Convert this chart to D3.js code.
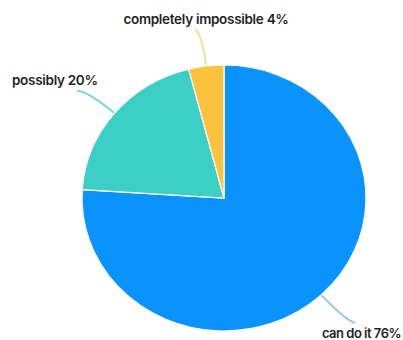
<!DOCTYPE html>
<html>
<head>
<meta charset="utf-8">
<script src="https://cdn.jsdelivr.net/npm/d3@7"></script>
<style>
	body { margin: 0; background: #fff; }
	svg { display: block; }
</style>
</head>
<body>
<svg></svg>
<script>
var WIDTH = 403;
var HEIGHT = 340;

// data
var categories = ['can do it', 'possibly', 'completely impossible'];
var percents = [76, 20, 4];
var colors = ['#0a93fc', '#3ccfc6', '#fdc23d'];
var lineColors = ['#7dbcf2', '#62d8d1', '#fdd581'];

// layout (pixels)
var CX = 224, CY = 198, RX = 142, RY = 133;
// radial extension of the leader line and its final tail
var labelLayout = [
	{ext: 34, tail: [10, 3], anchor: 'end', text: [401, 338]},
	{ext: 35, tail: [-10, 0], anchor: 'start', text: [12, 85]},
	{ext: 32, tail: [-7, -5], anchor: 'middle', text: [206, 24]}
];

var svg = d3.select('svg')
	.attr('width', WIDTH)
	.attr('height', HEIGHT);

var pie = d3.pie().sort(null).value(function(d){ return d; });
var arcs = pie(percents);

var arc = d3.arc().innerRadius(0).outerRadius(RX);

// point on the (slightly squashed) pie edge at an angle, pushed out by ext
var edgePoint = function(angle, ext){
	return [CX + (RX + ext) * Math.sin(angle), CY - (RY + ext) * Math.cos(angle)];
};

// leader lines first so the slices sit on top
var lines = svg.append('g').attr('id', 'leaders');
arcs.forEach(function(a, i){
	var mid = (a.startAngle + a.endAngle) / 2;
	var lay = labelLayout[i];
	var start = edgePoint(mid, -4);
	var elbow = edgePoint(mid, lay.ext);
	var end = [elbow[0] + lay.tail[0], elbow[1] + lay.tail[1]];
	lines.append('path')
		.attr('d', 'M' + start + 'Q' + elbow + ' ' + end)
		.attr('fill', 'none')
		.attr('stroke', lineColors[i])
		.attr('stroke-width', 1.6)
		.attr('stroke-linecap', 'round');
});

svg.append('g')
	.attr('id', 'pie')
	.attr('transform', 'translate(' + CX + ',' + CY + ') scale(1,' + (RY / RX) + ')')
	.selectAll('path')
	.data(arcs)
	.enter()
	.append('path')
	.attr('d', arc)
	.attr('fill', function(d, i){ return colors[i]; })
	.attr('stroke', '#fff')
	.attr('stroke-width', 1.2)
	.attr('vector-effect', 'non-scaling-stroke');

svg.append('g')
	.attr('id', 'labels')
	.selectAll('text')
	.data(arcs)
	.enter()
	.append('text')
	.attr('x', function(d, i){ return labelLayout[i].text[0]; })
	.attr('y', function(d, i){ return labelLayout[i].text[1]; })
	.attr('text-anchor', function(d, i){ return labelLayout[i].anchor; })
	.attr('font-family', 'Inter, "Open Sans", sans-serif')
	.attr('font-weight', 600)
	.attr('font-size', function(d, i){ return i === 0 ? '13px' : '13.5px'; })
	.attr('letter-spacing', function(d, i){ return i === 0 ? '-0.5px' : '-0.3px'; })
	.attr('fill', '#1f1f1f')
	.text(function(d, i){ return categories[i] + ' ' + percents[i] + '%'; });
</script>
</body>
</html>
